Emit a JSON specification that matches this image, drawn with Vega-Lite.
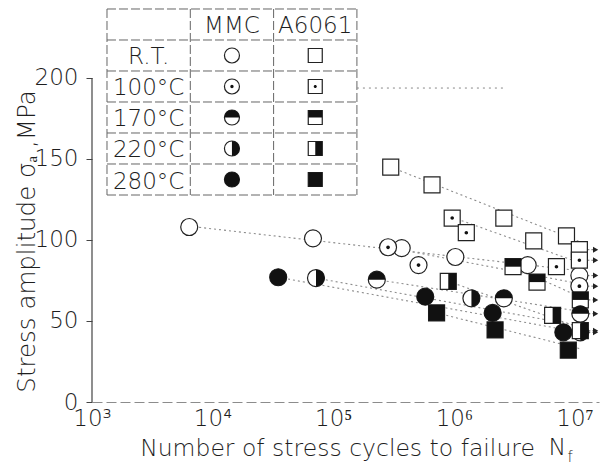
{
  "$schema": "https://vega.github.io/schema/vega-lite/v6.json",
  "width": 507,
  "height": 402,
  "autosize": {"type": "none"},
  "padding": {"left": 92, "top": 0, "right": 12, "bottom": 65},
  "background": "white",
  "config": {
    "view": {"stroke": null},
    "font": "DejaVu Sans",
    "text": {"font": "DejaVu Sans", "color": "#1e1e1e", "fontWeight": 200},
    "axis": {
      "grid": false,
      "labelFont": "DejaVu Sans",
      "titleFont": "DejaVu Sans",
      "labelColor": "#1e1e1e",
      "titleColor": "#1e1e1e",
      "labelFontWeight": 200,
      "titleFontWeight": 200,
      "labelFontSize": 23,
      "titleFontSize": 23.5
    }
  },
  "datasets": {
    "points": [
      {"mat": "MMC", "temp": "R.T.", "N": 6400, "S": 108, "runout": false},
      {"mat": "MMC", "temp": "R.T.", "N": 68000, "S": 101, "runout": false},
      {"mat": "MMC", "temp": "R.T.", "N": 370000, "S": 95, "runout": false},
      {"mat": "MMC", "temp": "R.T.", "N": 1030000, "S": 89.5, "runout": false},
      {"mat": "MMC", "temp": "R.T.", "N": 4100000, "S": 84.5, "runout": false},
      {"mat": "MMC", "temp": "R.T.", "N": 11000000, "S": 78, "runout": true},
      {"mat": "MMC", "temp": "100°C", "N": 285000, "S": 95.5, "runout": false},
      {"mat": "MMC", "temp": "100°C", "N": 510000, "S": 84.5, "runout": false},
      {"mat": "MMC", "temp": "100°C", "N": 11000000, "S": 71.5, "runout": true},
      {"mat": "MMC", "temp": "170°C", "N": 230000, "S": 75.5, "runout": false},
      {"mat": "MMC", "temp": "170°C", "N": 2600000, "S": 64, "runout": false},
      {"mat": "MMC", "temp": "170°C", "N": 11200000, "S": 54.5, "runout": true},
      {"mat": "MMC", "temp": "220°C", "N": 72000, "S": 76.5, "runout": false},
      {"mat": "MMC", "temp": "220°C", "N": 1400000, "S": 64, "runout": false},
      {"mat": "MMC", "temp": "220°C", "N": 11200000, "S": 43, "runout": true},
      {"mat": "MMC", "temp": "280°C", "N": 35000, "S": 77, "runout": false},
      {"mat": "MMC", "temp": "280°C", "N": 580000, "S": 65, "runout": false},
      {"mat": "MMC", "temp": "280°C", "N": 2100000, "S": 55, "runout": false},
      {"mat": "MMC", "temp": "280°C", "N": 8100000, "S": 43, "runout": false},
      {"mat": "A6061", "temp": "R.T.", "N": 300000, "S": 145, "runout": false},
      {"mat": "A6061", "temp": "R.T.", "N": 660000, "S": 134, "runout": false},
      {"mat": "A6061", "temp": "R.T.", "N": 2600000, "S": 113.5, "runout": false},
      {"mat": "A6061", "temp": "R.T.", "N": 4600000, "S": 99.5, "runout": false},
      {"mat": "A6061", "temp": "R.T.", "N": 8600000, "S": 102.5, "runout": false},
      {"mat": "A6061", "temp": "R.T.", "N": 11000000, "S": 94, "runout": true},
      {"mat": "A6061", "temp": "100°C", "N": 970000, "S": 113.5, "runout": false},
      {"mat": "A6061", "temp": "100°C", "N": 1270000, "S": 104.5, "runout": false},
      {"mat": "A6061", "temp": "100°C", "N": 7100000, "S": 83.5, "runout": false},
      {"mat": "A6061", "temp": "100°C", "N": 11000000, "S": 87.5, "runout": true},
      {"mat": "A6061", "temp": "170°C", "N": 3100000, "S": 83.5, "runout": false},
      {"mat": "A6061", "temp": "170°C", "N": 4900000, "S": 74, "runout": false},
      {"mat": "A6061", "temp": "170°C", "N": 11200000, "S": 63, "runout": true},
      {"mat": "A6061", "temp": "220°C", "N": 900000, "S": 74.5, "runout": false},
      {"mat": "A6061", "temp": "220°C", "N": 6600000, "S": 53.5, "runout": false},
      {"mat": "A6061", "temp": "220°C", "N": 11200000, "S": 44, "runout": true},
      {"mat": "A6061", "temp": "280°C", "N": 720000, "S": 55, "runout": false},
      {"mat": "A6061", "temp": "280°C", "N": 2200000, "S": 44.5, "runout": false},
      {"mat": "A6061", "temp": "280°C", "N": 8900000, "S": 32, "runout": false}
    ],
    "fits": [
      {"fit": "MMC R.T.", "N": 6400, "S": 108.5},
      {"fit": "MMC R.T.", "N": 11000000, "S": 81},
      {"fit": "MMC 100°C", "N": 285000, "S": 95.5},
      {"fit": "MMC 100°C", "N": 11000000, "S": 73},
      {"fit": "MMC 170°C", "N": 230000, "S": 75.5},
      {"fit": "MMC 170°C", "N": 11000000, "S": 56},
      {"fit": "MMC 220°C", "N": 72000, "S": 76.5},
      {"fit": "MMC 220°C", "N": 11000000, "S": 47},
      {"fit": "MMC 280°C", "N": 35000, "S": 77},
      {"fit": "MMC 280°C", "N": 11000000, "S": 43},
      {"fit": "A6061 R.T.", "N": 300000, "S": 145},
      {"fit": "A6061 R.T.", "N": 11000000, "S": 99},
      {"fit": "A6061 100°C", "N": 970000, "S": 114},
      {"fit": "A6061 100°C", "N": 11000000, "S": 86},
      {"fit": "A6061 170°C", "N": 3100000, "S": 83.5},
      {"fit": "A6061 170°C", "N": 11000000, "S": 65},
      {"fit": "A6061 220°C", "N": 900000, "S": 74.5},
      {"fit": "A6061 220°C", "N": 11000000, "S": 46},
      {"fit": "A6061 280°C", "N": 720000, "S": 55},
      {"fit": "A6061 280°C", "N": 11000000, "S": 33}
    ],
    "gridLines": [
      {"c1": -0.5, "c2": -0.5, "r1": -0.5, "r2": 5.5},
      {"c1": 0.5, "c2": 0.5, "r1": -0.5, "r2": 5.5},
      {"c1": 1.5, "c2": 1.5, "r1": -0.5, "r2": 5.5},
      {"c1": 2.5, "c2": 2.5, "r1": -0.5, "r2": 5.5},
      {"c1": -0.5, "c2": 2.5, "r1": -0.5, "r2": -0.5},
      {"c1": -0.5, "c2": 2.5, "r1": 0.5, "r2": 0.5},
      {"c1": -0.5, "c2": 2.5, "r1": 1.5, "r2": 1.5},
      {"c1": -0.5, "c2": 2.5, "r1": 2.5, "r2": 2.5},
      {"c1": -0.5, "c2": 2.5, "r1": 3.5, "r2": 3.5},
      {"c1": -0.5, "c2": 2.5, "r1": 4.5, "r2": 4.5},
      {"c1": -0.5, "c2": 2.5, "r1": 5.5, "r2": 5.5}
    ],
    "cellText": [
      {"c": 1, "r": 0, "text": "MMC"},
      {"c": 2, "r": 0, "text": "A6061"},
      {"c": 0, "r": 1, "text": "R.T."},
      {"c": 0, "r": 2, "text": "100°C"},
      {"c": 0, "r": 3, "text": "170°C"},
      {"c": 0, "r": 4, "text": "220°C"},
      {"c": 0, "r": 5, "text": "280°C"}
    ],
    "keys": [
      {"mat": "MMC", "temp": "R.T.", "c": 1, "r": 1},
      {"mat": "MMC", "temp": "100°C", "c": 1, "r": 2},
      {"mat": "MMC", "temp": "170°C", "c": 1, "r": 3},
      {"mat": "MMC", "temp": "220°C", "c": 1, "r": 4},
      {"mat": "MMC", "temp": "280°C", "c": 1, "r": 5},
      {"mat": "A6061", "temp": "R.T.", "c": 2, "r": 1},
      {"mat": "A6061", "temp": "100°C", "c": 2, "r": 2},
      {"mat": "A6061", "temp": "170°C", "c": 2, "r": 3},
      {"mat": "A6061", "temp": "220°C", "c": 2, "r": 4},
      {"mat": "A6061", "temp": "280°C", "c": 2, "r": 5}
    ]
  },
  "layer": [
    {
      "layer": [
        {
          "data": {"name": "fits"},
          "mark": {"type": "line", "color": "#8c8c8c", "strokeWidth": 1.1, "strokeDash": [2, 3]},
          "encoding": {
            "x": {
              "field": "N", "type": "quantitative",
              "scale": {"type": "log", "domain": [1000, 16000000], "nice": false},
              "axis": {
                "values": [1000, 10000, 100000, 1000000, 10000000],
                "labelExpr": "datum.value == 1000 ? '10³' : datum.value == 10000 ? '10⁴' : datum.value == 100000 ? '10⁵' : datum.value == 1000000 ? '10⁶' : '10⁷'",
                "ticks": false,
                "labelPadding": 5,
                "labelFlush": false,
                "domainColor": "#8c8c8c",
                "domainDash": [10, 4],
                "title": "Number of stress cycles to failure",
                "titleX": 245,
                "titleY": 46,
                "titleAlign": "center",
                "titleBaseline": "middle"
              }
            },
            "y": {
              "field": "S", "type": "quantitative",
              "scale": {"domain": [0, 248.1], "nice": false, "zero": false},
              "axis": {
                "values": [0, 50, 100, 150, 200],
                "domain": false,
                "tickSize": 6,
                "tickColor": "#444",
                "labelPadding": 8,
                "title": "Stress amplitude  σₐ  ,MPa",
                "titleFontSize": 24.5,
                "titleX": -65,
                "titleY": 241,
                "titleAngle": 270,
                "titleAlign": "center",
                "titleBaseline": "middle"
              }
            },
            "detail": {"field": "fit"}
          }
        },
        {
          "data": {"values": [{}]},
          "mark": {"type": "rule", "color": "#444", "strokeWidth": 1.2},
          "encoding": {
            "x": {"datum": 1000, "type": "quantitative"},
            "y": {"datum": 0, "type": "quantitative"},
            "y2": {"datum": 200}
          }
        },
        {
          "data": {"name": "points"},
          "transform": [{"filter": "datum.runout"}],
          "mark": {"type": "rule", "color": "#777", "strokeWidth": 1, "strokeDash": [2, 2]},
          "encoding": {
            "x": {"field": "N", "type": "quantitative"},
            "x2": {"datum": 15000000},
            "y": {"field": "S", "type": "quantitative"}
          }
        },
        {
          "data": {"name": "points"},
          "transform": [{"filter": "datum.runout"}],
          "mark": {"type": "point", "shape": "triangle-right", "filled": true, "color": "#222", "opacity": 1, "size": 36},
          "encoding": {
            "x": {"datum": 15000000, "type": "quantitative"},
            "y": {"field": "S", "type": "quantitative"}
          }
        },
        {
          "data": {"name": "points"},
          "transform": [{"filter": "datum.mat == 'MMC'"}],
          "mark": {"type": "point", "shape": "M-1,0A1,1,0,1,1,1,0A1,1,0,1,1,-1,0Z", "size": 289, "filled": true, "fill": "white", "stroke": "#222", "strokeWidth": 1.2, "opacity": 1},
          "encoding": {
            "x": {"field": "N", "type": "quantitative"},
            "y": {"field": "S", "type": "quantitative"}
          }
        },
        {
          "data": {"name": "points"},
          "transform": [{"filter": "datum.mat == 'A6061'"}],
          "mark": {"type": "point", "shape": "M-1,-1L1,-1L1,1L-1,1Z", "size": 256, "filled": true, "fill": "white", "stroke": "#222", "strokeWidth": 1.2, "opacity": 1},
          "encoding": {
            "x": {"field": "N", "type": "quantitative"},
            "y": {"field": "S", "type": "quantitative"}
          }
        },
        {
          "data": {"name": "points"},
          "transform": [{"filter": "datum.mat == 'MMC' && datum.temp != 'R.T.'"}],
          "mark": {"type": "point", "size": 289, "filled": true, "fill": "#111", "strokeWidth": 0, "opacity": 1},
          "encoding": {
            "x": {"field": "N", "type": "quantitative"},
            "y": {"field": "S", "type": "quantitative"},
            "shape": {
              "field": "temp", "type": "nominal", "legend": null,
              "scale": {
                "domain": ["100°C", "170°C", "220°C", "280°C"],
                "range": [
                  "M-0.22,0A0.22,0.22,0,1,1,0.22,0A0.22,0.22,0,1,1,-0.22,0Z",
                  "M-1,0A1,1,0,0,1,1,0Z",
                  "M0,-1A1,1,0,0,1,0,1Z",
                  "M-1,0A1,1,0,1,1,1,0A1,1,0,1,1,-1,0Z"
                ]
              }
            }
          }
        },
        {
          "data": {"name": "points"},
          "transform": [{"filter": "datum.mat == 'A6061' && datum.temp != 'R.T.'"}],
          "mark": {"type": "point", "size": 256, "filled": true, "fill": "#111", "strokeWidth": 0, "opacity": 1},
          "encoding": {
            "x": {"field": "N", "type": "quantitative"},
            "y": {"field": "S", "type": "quantitative"},
            "shape": {
              "field": "temp", "type": "nominal", "legend": null,
              "scale": {
                "domain": ["100°C", "170°C", "220°C", "280°C"],
                "range": [
                  "M-0.22,0A0.22,0.22,0,1,1,0.22,0A0.22,0.22,0,1,1,-0.22,0Z",
                  "M-1,-1L1,-1L1,0L-1,0Z",
                  "M0,-1L1,-1L1,1L0,1Z",
                  "M-1,-1L1,-1L1,1L-1,1Z"
                ]
              }
            }
          }
        },
        {
          "data": {"values": [{"t": "N", "N": 7230000, "S": -28.5}]},
          "mark": {"type": "text", "fontSize": 23.5, "align": "center", "baseline": "middle"},
          "encoding": {
            "x": {"field": "N", "type": "quantitative"},
            "y": {"field": "S", "type": "quantitative"},
            "text": {"field": "t"}
          }
        },
        {
          "data": {"values": [{"t": "f", "N": 9200000, "S": -34}]},
          "mark": {"type": "text", "fontSize": 15, "align": "center", "baseline": "middle"},
          "encoding": {
            "x": {"field": "N", "type": "quantitative"},
            "y": {"field": "S", "type": "quantitative"},
            "text": {"field": "t"}
          }
        }
      ],
      "resolve": {"scale": {"shape": "independent"}}
    },
    {
      "layer": [
        {
          "data": {"name": "gridLines"},
          "mark": {"type": "rule", "color": "#666", "strokeWidth": 1, "strokeDash": [9, 3]},
          "encoding": {
            "x": {"field": "c1", "type": "quantitative", "scale": {"domain": [-0.68, 5.406], "nice": false, "zero": false}, "axis": null},
            "x2": {"field": "c2"},
            "y": {"field": "r1", "type": "quantitative", "scale": {"domain": [-0.79, 12.177], "nice": false, "zero": false, "reverse": true}, "axis": null},
            "y2": {"field": "r2"}
          }
        },
        {
          "data": {"values": [{}]},
          "mark": {"type": "rule", "color": "#888", "strokeWidth": 1, "strokeDash": [2, 4]},
          "encoding": {
            "x": {"datum": 2.5, "type": "quantitative"},
            "x2": {"datum": 4.28},
            "y": {"datum": 2.05, "type": "quantitative"}
          }
        },
        {
          "data": {"name": "cellText"},
          "mark": {"type": "text", "fontSize": 23, "align": "center", "baseline": "middle", "dy": 2},
          "encoding": {
            "x": {"field": "c", "type": "quantitative"},
            "y": {"field": "r", "type": "quantitative"},
            "text": {"field": "text"}
          }
        },
        {
          "data": {"name": "keys"},
          "transform": [{"filter": "datum.mat == 'MMC'"}],
          "mark": {"type": "point", "shape": "M-1,0A1,1,0,1,1,1,0A1,1,0,1,1,-1,0Z", "size": 225, "filled": true, "fill": "white", "stroke": "#222", "strokeWidth": 1.2, "opacity": 1},
          "encoding": {
            "x": {"field": "c", "type": "quantitative"},
            "y": {"field": "r", "type": "quantitative"}
          }
        },
        {
          "data": {"name": "keys"},
          "transform": [{"filter": "datum.mat == 'A6061'"}],
          "mark": {"type": "point", "shape": "M-1,-1L1,-1L1,1L-1,1Z", "size": 196, "filled": true, "fill": "white", "stroke": "#222", "strokeWidth": 1.2, "opacity": 1},
          "encoding": {
            "x": {"field": "c", "type": "quantitative"},
            "y": {"field": "r", "type": "quantitative"}
          }
        },
        {
          "data": {"name": "keys"},
          "transform": [{"filter": "datum.mat == 'MMC' && datum.temp != 'R.T.'"}],
          "mark": {"type": "point", "size": 225, "filled": true, "fill": "#111", "strokeWidth": 0, "opacity": 1},
          "encoding": {
            "x": {"field": "c", "type": "quantitative"},
            "y": {"field": "r", "type": "quantitative"},
            "shape": {
              "field": "temp", "type": "nominal", "legend": null,
              "scale": {
                "domain": ["100°C", "170°C", "220°C", "280°C"],
                "range": [
                  "M-0.22,0A0.22,0.22,0,1,1,0.22,0A0.22,0.22,0,1,1,-0.22,0Z",
                  "M-1,0A1,1,0,0,1,1,0Z",
                  "M0,-1A1,1,0,0,1,0,1Z",
                  "M-1,0A1,1,0,1,1,1,0A1,1,0,1,1,-1,0Z"
                ]
              }
            }
          }
        },
        {
          "data": {"name": "keys"},
          "transform": [{"filter": "datum.mat == 'A6061' && datum.temp != 'R.T.'"}],
          "mark": {"type": "point", "size": 196, "filled": true, "fill": "#111", "strokeWidth": 0, "opacity": 1},
          "encoding": {
            "x": {"field": "c", "type": "quantitative"},
            "y": {"field": "r", "type": "quantitative"},
            "shape": {
              "field": "temp", "type": "nominal", "legend": null,
              "scale": {
                "domain": ["100°C", "170°C", "220°C", "280°C"],
                "range": [
                  "M-0.22,0A0.22,0.22,0,1,1,0.22,0A0.22,0.22,0,1,1,-0.22,0Z",
                  "M-1,-1L1,-1L1,0L-1,0Z",
                  "M0,-1L1,-1L1,1L0,1Z",
                  "M-1,-1L1,-1L1,1L-1,1Z"
                ]
              }
            }
          }
        }
      ],
      "resolve": {"scale": {"shape": "independent"}}
    }
  ],
  "resolve": {"scale": {"x": "independent", "y": "independent", "shape": "independent"}}
}
